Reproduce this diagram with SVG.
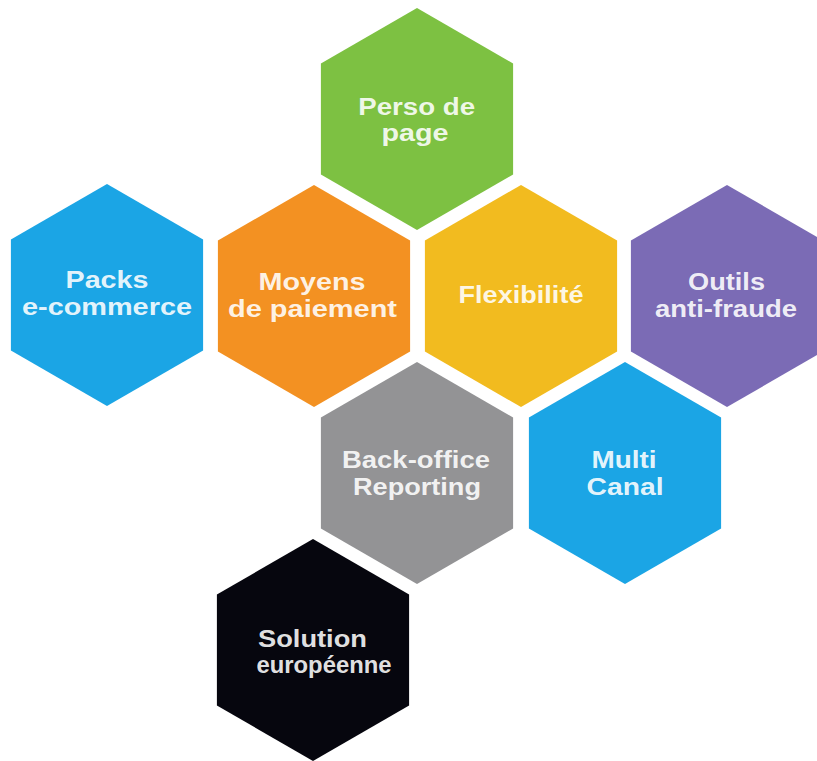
<svg xmlns="http://www.w3.org/2000/svg" width="817" height="761" viewBox="0 0 817 761">
<defs>
<style>
.hex{stroke:none}
.t{font-family:"Liberation Sans",Arial,Helvetica,sans-serif;font-weight:bold;font-size:24px;fill:#ffffff;fill-opacity:0.9;text-anchor:middle}
</style>
<polygon id="h" points="0,-111 96.1,-55.5 96.1,55.5 0,111 -96.1,55.5 -96.1,-55.5"/>
</defs>
<rect width="817" height="761" fill="#ffffff"/>
<g id="connectors"/>
<g id="perso">
<use href="#h" x="417" y="119" fill="#7dc142"/>
<text class="t" x="416.7" y="115" textLength="117" lengthAdjust="spacingAndGlyphs">Perso de</text>
<text class="t" x="415" y="141" textLength="67" lengthAdjust="spacingAndGlyphs">page</text>
</g>
<g id="packs">
<use href="#h" x="107" y="295" fill="#1ba5e5"/>
<text class="t" x="107" y="288" textLength="83" lengthAdjust="spacingAndGlyphs">Packs</text>
<text class="t" x="107" y="315" textLength="170" lengthAdjust="spacingAndGlyphs">e-commerce</text>
</g>
<g id="moyens">
<use href="#h" x="314" y="296" fill="#f39122"/>
<text class="t" x="312" y="290" textLength="107" lengthAdjust="spacingAndGlyphs">Moyens</text>
<text class="t" x="312.5" y="317" textLength="169" lengthAdjust="spacingAndGlyphs">de  paiement</text>
</g>
<g id="flex">
<use href="#h" x="521" y="296" fill="#f2bb1f"/>
<text class="t" x="521" y="303" textLength="125" lengthAdjust="spacingAndGlyphs">Flexibilité</text>
</g>
<g id="outils">
<use href="#h" x="727" y="296" fill="#7b6bb5"/>
<text class="t" x="726.5" y="290" textLength="77" lengthAdjust="spacingAndGlyphs">Outils</text>
<text class="t" x="726" y="317" textLength="142" lengthAdjust="spacingAndGlyphs">anti-fraude</text>
</g>
<g id="backoffice">
<use href="#h" x="417" y="473" fill="#939395"/>
<text class="t" x="416" y="468" textLength="148" lengthAdjust="spacingAndGlyphs">Back-office</text>
<text class="t" x="417" y="495" textLength="128" lengthAdjust="spacingAndGlyphs">Reporting</text>
</g>
<g id="multi">
<use href="#h" x="625" y="473" fill="#1ba5e5"/>
<text class="t" x="624" y="468" textLength="65" lengthAdjust="spacingAndGlyphs">Multi</text>
<text class="t" x="625" y="495" textLength="77" lengthAdjust="spacingAndGlyphs">Canal</text>
</g>
<g id="solution">
<use href="#h" x="313" y="650" fill="#06060e"/>
<text class="t" x="312.5" y="647" textLength="109" lengthAdjust="spacingAndGlyphs">Solution</text>
<text class="t" x="324" y="673" textLength="135" lengthAdjust="spacingAndGlyphs">européenne</text>
</g>
</svg>
